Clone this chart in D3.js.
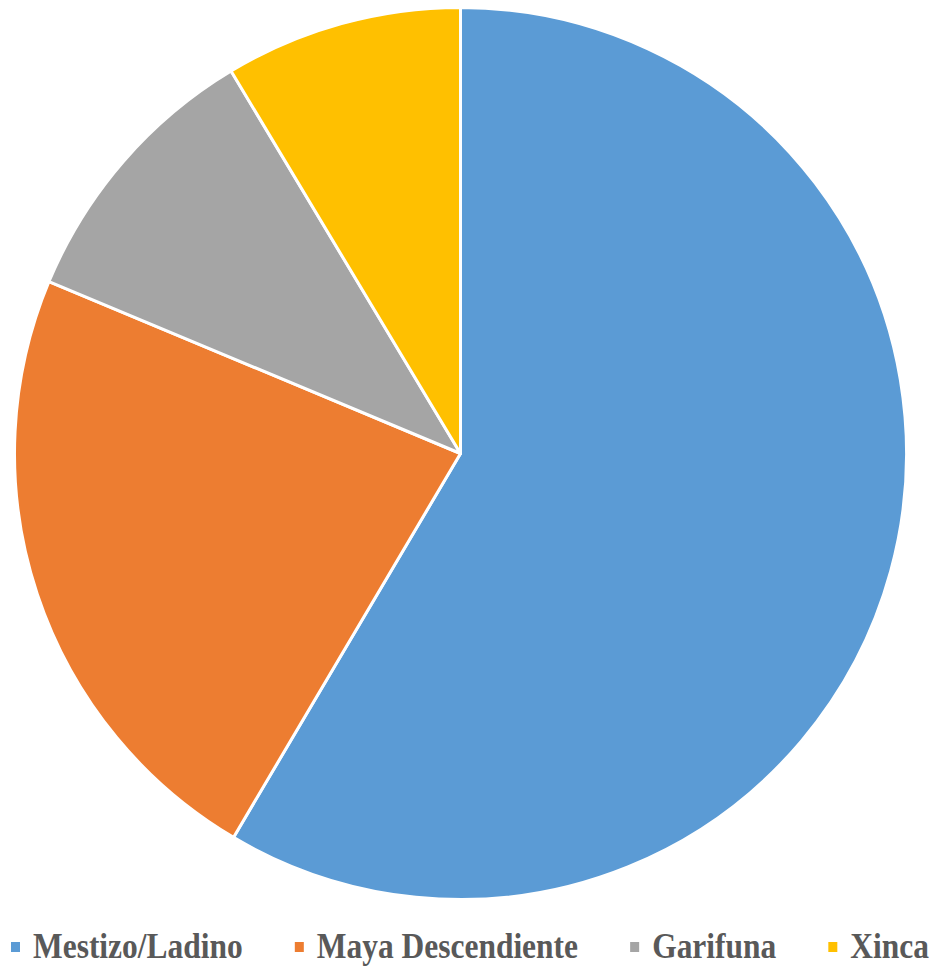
<!DOCTYPE html>
<html>
<head>
<meta charset="utf-8">
<script src="https://cdn.jsdelivr.net/npm/d3@7"></script>
<style>
  html, body { margin: 0; padding: 0; background: #fff; }
  svg { display: block; }
</style>
</head>
<body>
<svg id="chart" width="932" height="967"></svg>
<script>
const categories = ["Mestizo/Ladino", "Maya Descendiente", "Garifuna", "Xinca"];
const values = [58.5, 22.8, 10.1, 8.6];
const colors = ["#5B9BD5", "#ED7D31", "#A5A5A5", "#FFC000"];

const svg = d3.select("#chart");
const cx = 460.5, cy = 453.5, R = 446;

const data = categories.map((c, i) => ({ name: c, value: values[i], color: colors[i] }));
const pie = d3.pie().sort(null).value(d => d.value).startAngle(0).endAngle(2 * Math.PI);
const arc = d3.arc().innerRadius(0).outerRadius(R);

const g = svg.append("g").attr("transform", `translate(${cx},${cy})`);
g.selectAll("path")
  .data(pie(data))
  .join("path")
  .attr("d", arc)
  .attr("fill", d => d.data.color)
  .attr("stroke", "#fff")
  .attr("stroke-width", 3)
  .attr("stroke-linejoin", "round");

// Legend
const legend = svg.append("g");
const fontSize = 35;
const sq = 9, gapText = 13, gapItem = 52;
const legendLeft = 11, legendRight = 929;
const items = legend.selectAll("g.item").data(data).join("g").attr("class", "item");
items.append("rect")
  .attr("width", sq).attr("height", 10)
  .attr("y", -16)
  .attr("fill", d => d.color);
const texts = items.append("text")
  .attr("font-family", "'Liberation Serif', 'Times New Roman', serif")
  .attr("font-weight", "bold")
  .attr("font-size", fontSize)
  .attr("fill", "#595959")
  .text(d => d.name);

let widths = [];
texts.each(function () { widths.push(this.getComputedTextLength()); });
const fixed = (sq + gapText) * data.length + gapItem * (data.length - 1);
const k = (legendRight - legendLeft - fixed) / d3.sum(widths);
const scaled = widths.map(w => w * k);
texts.attr("transform", `translate(${sq + gapText},0) scale(${k},1)`);
items.attr("transform", (d, i) => {
  const x = legendLeft + d3.sum(scaled.slice(0, i)) + (sq + gapText + gapItem) * i;
  return `translate(${x},958)`;
});
</script>
</body>
</html>
